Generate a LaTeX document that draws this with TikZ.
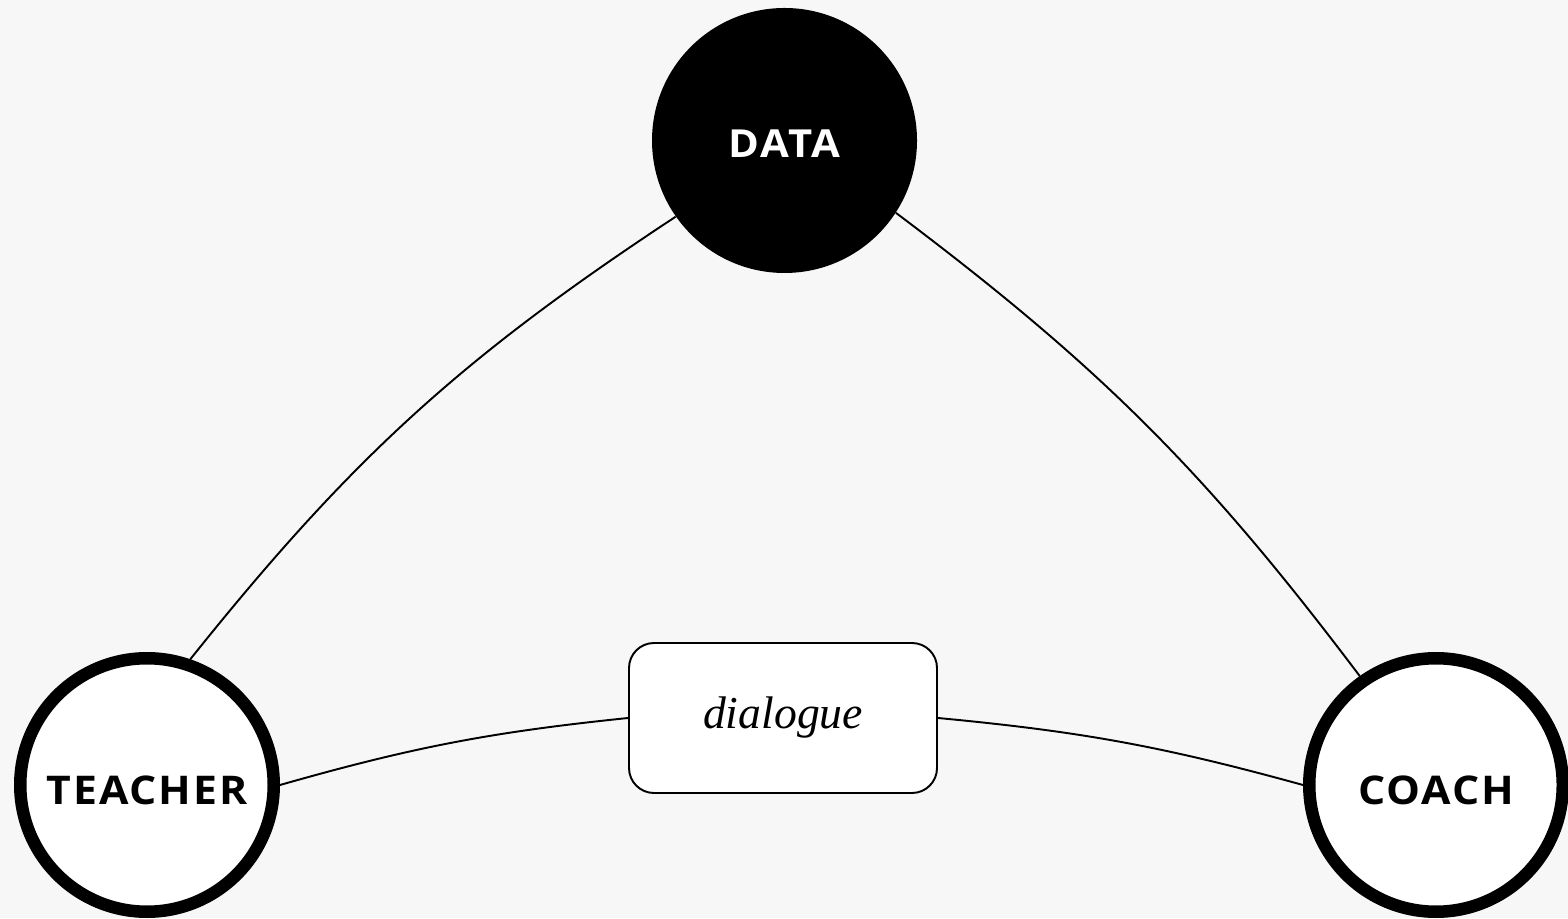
\documentclass[tikz,border=0pt]{standalone}
\usepackage{fontspec}
\usepackage{tikz}
\usetikzlibrary{calc,shapes,positioning}
\newfontfamily\capsfont[LetterSpace=5,FakeStretch=1.08]{Open Sans}
\newfontfamily\dlgfont{Liberation Serif}
\definecolor{bggray}{RGB}{247,247,247}

\begin{document}
\begin{tikzpicture}
      \tikzstyle{dnode} = [circle, fill=black, text=white, minimum size = 5.3cm, inner sep = 0pt, text height = 0.7cm, text depth = 0pt, font=\capsfont\bfseries\fontsize{22}{26}\selectfont]
      \tikzstyle{pnode} = [circle, draw, line width = 0.25cm, fill=white, minimum size = 5.07cm, inner sep = 0pt, text height = 0.78cm, text depth = 0pt, font=\capsfont\bfseries\fontsize{22.5}{26}\selectfont]
      \tikzstyle{bnode} = [rectangle, draw, line width = 1.1pt, rounded corners = 0.5cm, fill=white, minimum width = 6.16cm, minimum height = 3.0cm, font=\dlgfont\itshape\fontsize{26}{30}\selectfont]
      \tikzstyle{conn} = [line width = 1.1pt]

      \fill[bggray] (0,0) rectangle (31.36,18.36);
      \useasboundingbox (0,0) rectangle (31.36,18.36);

      \node[dnode] (data) at (15.69,15.55) {DATA};
      \node[pnode] (teacher) at (2.94,2.66) {TEACHER};
      \node[pnode] (coach) at (28.72,2.66) {COACH};
      \node[bnode] (dlg) at (15.66,4.0) {dialogue};

      \draw[conn] (data.215) to[bend right=9] (teacher.71);
      \draw[conn] (data.-33) to[bend left=8] (coach.125);
      \draw[conn] (teacher.east) to[bend left=5] (dlg.west);
      \draw[conn] (dlg.east) to[bend left=5] (coach.west);
    \end{tikzpicture}
\end{document}
